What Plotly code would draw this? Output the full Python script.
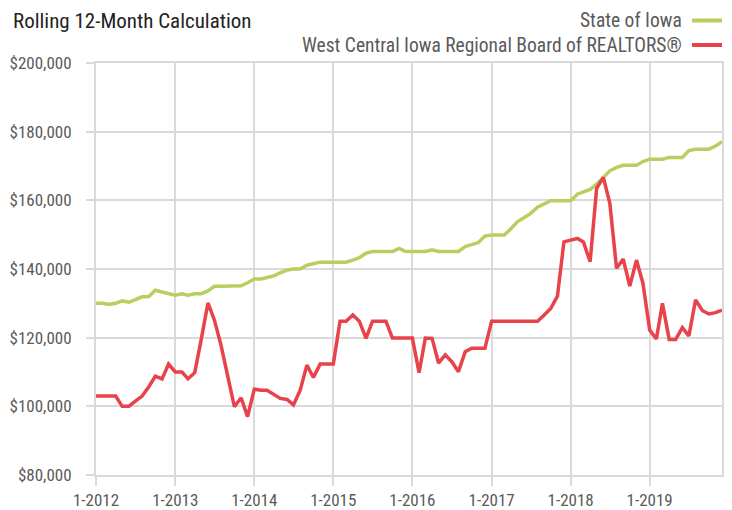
import plotly.graph_objects as go
import pandas as pd

months = pd.date_range("2012-01-01", "2019-12-01", freq="MS")

iowa = [
    130000, 130000, 129700, 130000, 130700, 130300, 131100, 131900, 132000, 133800, 133300, 132800,
    132400, 132800, 132400, 132800, 132800, 133600, 135000, 135000, 135000, 135000, 135100, 136000,
    137100, 137100, 137600, 138000, 138900, 139700, 140000, 140000, 141100, 141500, 142000, 142000,
    142000, 142000, 142000, 142600, 143300, 144600, 145100, 145100, 145100, 145100, 146000, 145100,
    145100, 145100, 145100, 145600, 145100, 145100, 145100, 145100, 146500, 147200, 147700, 149600,
    149900, 149900, 149900, 151800, 153800, 155000, 156200, 158000, 158900, 159900, 159900, 159900,
    159900, 161800, 162400, 163200, 164700, 166700, 168600, 169600, 170200, 170200, 170200, 171300,
    172000, 172000, 172000, 172500, 172500, 172500, 174500, 174900, 174900, 174900, 175800, 177100,
]

west_central = [
    103000, 103000, 103000, 103000, 100000, 100000, 101500, 103000, 105700, 108800, 108000, 112300,
    110000, 110000, 108000, 109800, 119500, 130100, 125100, 117600, 108600, 99900, 102500, 97000,
    105000, 104700, 104700, 103600, 102300, 102000, 100400, 104700, 112000, 108400, 112300, 112300,
    112300, 124800, 124800, 126600, 124800, 119800, 124800, 124800, 124800, 119900, 119900, 119900,
    119900, 109800, 119900, 119800, 112600, 115000, 113000, 110100, 115900, 116900, 116900, 116900,
    124800, 124800, 124800, 124800, 124800, 124800, 124800, 124800, 126600, 128500, 132100, 147900,
    148400, 148900, 147900, 142100, 163500, 166700, 159100, 140200, 142900, 135000, 142600, 135800,
    122200, 119600, 130000, 119500, 119500, 122900, 120500, 131000, 127900, 126900, 127300, 128000,
]

series_names = ["State of Iowa", "West Central Iowa Regional Board of REALTORS®"]
series_colors = ["#b6cf5f", "#e8424b"]

x_tick_vals = ["2012-01-01", "2013-01-01", "2014-01-01", "2015-01-01",
               "2016-01-01", "2017-01-01", "2018-01-01", "2019-01-01"]
x_tick_text = ["1-2012", "1-2013", "1-2014", "1-2015", "1-2016", "1-2017", "1-2018", "1-2019"]
y_tick_vals = [80000, 100000, 120000, 140000, 160000, 180000, 200000]
y_tick_text = ["$80,000", "$100,000", "$120,000", "$140,000", "$160,000", "$180,000", "$200,000"]

FONT = "Liberation Sans Narrow, Roboto Condensed, Arial Narrow, Liberation Sans, sans-serif"
GRID = "#dadada"
TEXT = "#5a5a5a"

# plot box in figure pixels (page adds an 8px body margin)
L, R, T, B = 88, 714, 55, 467
PW, PH = R - L, B - T


def px_x(x):
    return (x - L) / PW


def px_y(y):
    return 1 + (T - y) / PH


fig = go.Figure()
for vals, name, color in zip([iowa, west_central], series_names, series_colors):
    fig.add_trace(go.Scatter(x=months, y=vals, mode="lines", name=name,
                             line=dict(color=color, width=3.5), showlegend=False))

fig.update_layout(
    width=732, height=510,
    margin=dict(l=L, r=732 - R, t=T, b=510 - B, autoexpand=False),
    paper_bgcolor="white", plot_bgcolor="white",
    font=dict(family=FONT, color=TEXT, size=17),
)
fig.update_xaxes(
    range=["2012-01-01", "2019-12-01"],
    tickvals=x_tick_vals, ticktext=x_tick_text,
    showgrid=True, gridcolor=GRID, gridwidth=2,
    ticks="outside", ticklen=9, tickcolor=GRID, tickwidth=2,
    showline=True, mirror=True, linecolor=GRID, linewidth=2,
    tickfont=dict(size=17, color=TEXT), zeroline=False, automargin=False,
)
fig.update_yaxes(
    range=[80000, 200000],
    tickvals=y_tick_vals, ticktext=y_tick_text,
    showgrid=True, gridcolor=GRID, gridwidth=2,
    ticks="outside", ticklen=8, tickcolor=GRID, tickwidth=2,
    showline=True, mirror=True, linecolor=GRID, linewidth=2,
    tickfont=dict(size=17, color=TEXT), ticklabelstandoff=11, zeroline=False, automargin=False,
)

# title at the very top
fig.add_annotation(text="Rolling 12-Month Calculation", xref="paper", yref="paper",
                   x=px_x(4), y=px_y(0), xanchor="left", yanchor="top", borderpad=0,
                   showarrow=False, font=dict(size=21, color="#222222", family=FONT))

# custom legend: text right-aligned, line sample on the right
legend_y = [px_y(12.5), px_y(37)]
for name, color, ly in zip(series_names, series_colors, legend_y):
    fig.add_annotation(text=name, xref="paper", yref="paper",
                       x=px_x(675), y=ly, xanchor="right", yanchor="middle", borderpad=0,
                       showarrow=False, font=dict(size=19.5, color=TEXT, family=FONT))
    fig.add_shape(type="line", xref="paper", yref="paper",
                  x0=px_x(684), x1=px_x(714), y0=ly, y1=ly,
                  line=dict(color=color, width=4))

fig.write_html("out.html")
